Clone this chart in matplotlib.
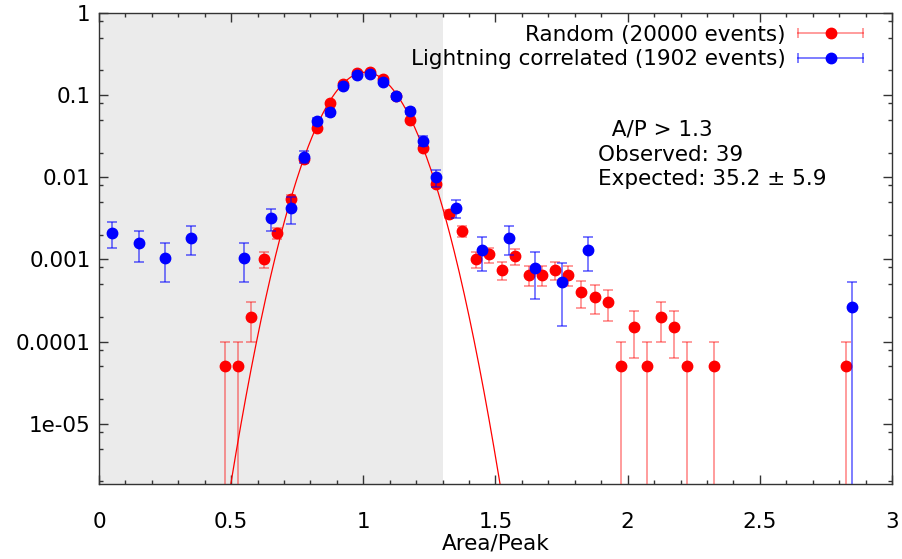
import numpy as np
import matplotlib
matplotlib.use('Agg')
import matplotlib.pyplot as plt
from matplotlib.legend_handler import HandlerBase
from matplotlib.container import ErrorbarContainer
from matplotlib.lines import Line2D
from matplotlib.ticker import MultipleLocator, FixedLocator, FixedFormatter, LogLocator, NullFormatter

# random triggers, 0.05 wide bins, normalised to 20000 events
rand_total = 20000
rand_x = [0.475, 0.525, 0.575, 0.625, 0.675, 0.725, 0.775, 0.825, 0.875, 0.925,
          0.975, 1.025, 1.075, 1.125, 1.175, 1.225, 1.275, 1.325, 1.375, 1.425,
          1.475, 1.525, 1.575, 1.625, 1.675, 1.725, 1.775, 1.825, 1.875, 1.925,
          1.975, 2.025, 2.075, 2.125, 2.175, 2.225, 2.325, 2.825]
rand_counts = [1, 1, 4, 20, 42, 110, 334, 800, 1600, 2720,
               3740, 3860, 3100, 1940, 1000, 460, 166, 72, 44, 20,
               23, 15, 22, 13, 13, 15, 13, 8, 7, 6,
               1, 3, 1, 4, 3, 1, 1, 1]

# lightning correlated, mixed bin widths (normalised per 0.05)
lc_total = 1902
lc_x = [0.05, 0.15, 0.25, 0.35, 0.55, 0.65, 0.725, 0.775, 0.825, 0.875,
        0.925, 0.975, 1.025, 1.075, 1.125, 1.175, 1.225, 1.275, 1.35, 1.45,
        1.55, 1.65, 1.75, 1.85, 2.85]
lc_counts = [8, 6, 4, 7, 4, 12, 8, 34, 91, 117,
             245, 333, 342, 278, 184, 122, 53, 19, 16, 5,
             7, 3, 2, 5, 1]
lc_binw = [0.1] * 6 + [0.05] * 12 + [0.1] * 7

# gaussian fit to the random sample
fit_amp, fit_mean, fit_sigma = 0.19, 1.008, 0.106
cut = 1.3

labels_txt = ['  A/P > 1.3', 'Observed: 39', 'Expected: 35.2 \u00b1 5.9']
ytick_vals = [1, 0.1, 0.01, 0.001, 0.0001, 1e-05]
ytick_lbls = ['1', '0.1', '0.01', '0.001', '0.0001', '1e-05']
xtick_lbls = ['0', '0.5', '1', '1.5', '2', '2.5', '3']

FS = 15.5


class HErrHandler(HandlerBase):
    # gnuplot style key sample: horizontal bar with end caps and a dot
    def create_artists(self, legend, orig_handle, xdescent, ydescent,
                       width, height, fontsize, trans):
        y = height / 2 - ydescent
        x0, x1 = -xdescent, width - xdescent
        pt = orig_handle[0]
        ec = orig_handle[2][0].get_color()[0]
        bar = Line2D([x0, x1], [y, y], color=ec, lw=1.3)
        caps = Line2D([x0, x1], [y, y], ls='none', marker='|', ms=7.5,
                      mew=1.3, color=ec)
        dot = Line2D([(x0 + x1) / 2], [y], ls='none', marker='o',
                     ms=pt.get_markersize(), color=pt.get_color())
        for a in (bar, caps, dot):
            a.set_transform(trans)
        return [bar, caps, dot]


rc = np.array(rand_counts, dtype=float)
rand_y = rc / rand_total
rand_err = np.sqrt(rc) / rand_total

lc = np.array(lc_counts, dtype=float)
lc_scale = 0.05 / np.array(lc_binw) / lc_total
lc_y = lc * lc_scale
lc_err = np.sqrt(lc) * lc_scale

fig = plt.figure(figsize=(9.03, 5.59), dpi=100)
ax = fig.add_axes([0.1096, 0.1342, 0.8782, 0.8426])

ax.axvspan(0, cut, color='#ebebeb', lw=0, zorder=0)

xf = np.linspace(0, 3, 800)
ax.plot(xf, fit_amp * np.exp(-(xf - fit_mean) ** 2 / (2 * fit_sigma ** 2)),
        color='red', lw=0.9, zorder=2)

e1 = ax.errorbar(rand_x, rand_y, yerr=rand_err, fmt='o', color='red', ms=7.5,
                 ecolor=(1, 0, 0, 0.42), elinewidth=1.3, capsize=3.85, capthick=1.3,
                 label='Random (20000 events)', zorder=3)
e2 = ax.errorbar(lc_x, lc_y, yerr=lc_err, fmt='o', color='blue', ms=7.5,
                 ecolor=(0, 0, 1, 0.55), elinewidth=1.3, capsize=3.85, capthick=1.3,
                 label='Lightning correlated (1902 events)', zorder=4)

ax.set_yscale('log')
ax.set_xlim(0, 3)
ax.set_ylim(1.85e-6, 1)

ax.xaxis.set_major_locator(FixedLocator([0, 0.5, 1, 1.5, 2, 2.5, 3]))
ax.xaxis.set_major_formatter(FixedFormatter(xtick_lbls))
ax.xaxis.set_minor_locator(MultipleLocator(0.1))
ax.yaxis.set_major_locator(FixedLocator(ytick_vals))
ax.yaxis.set_major_formatter(FixedFormatter(ytick_lbls))
ax.yaxis.set_minor_locator(LogLocator(base=10, subs=[2, 5, 8], numticks=20))
ax.yaxis.set_minor_formatter(NullFormatter())

ax.tick_params(which='both', direction='in', top=True, right=True,
               color='#333333', labelsize=FS)
ax.tick_params(which='major', length=6.5, width=1)
ax.tick_params(which='minor', length=3.2, width=1)
ax.tick_params(axis='x', pad=20)
ax.tick_params(axis='y', pad=6)
for s in ax.spines.values():
    s.set_color('#333333')
    s.set_linewidth(1)

ax.set_xlabel('Area/Peak', fontsize=FS, labelpad=1)

leg = ax.legend(handles=[e1, e2], loc='upper right', bbox_to_anchor=(0.9634, 0.975),
                frameon=False, fontsize=FS, borderpad=0, borderaxespad=0,
                markerfirst=False, handlelength=3.0, handletextpad=0.6,
                labelspacing=0.2, alignment='right',
                handler_map={ErrorbarContainer: HErrHandler()})

txt_y = [0.7516, 0.6985, 0.6476]
for t, yy in zip(labels_txt, txt_y):
    ax.text(0.629, yy, t, transform=ax.transAxes, fontsize=FS,
            ha='left', va='center')

fig.savefig('out.png', dpi=100)
